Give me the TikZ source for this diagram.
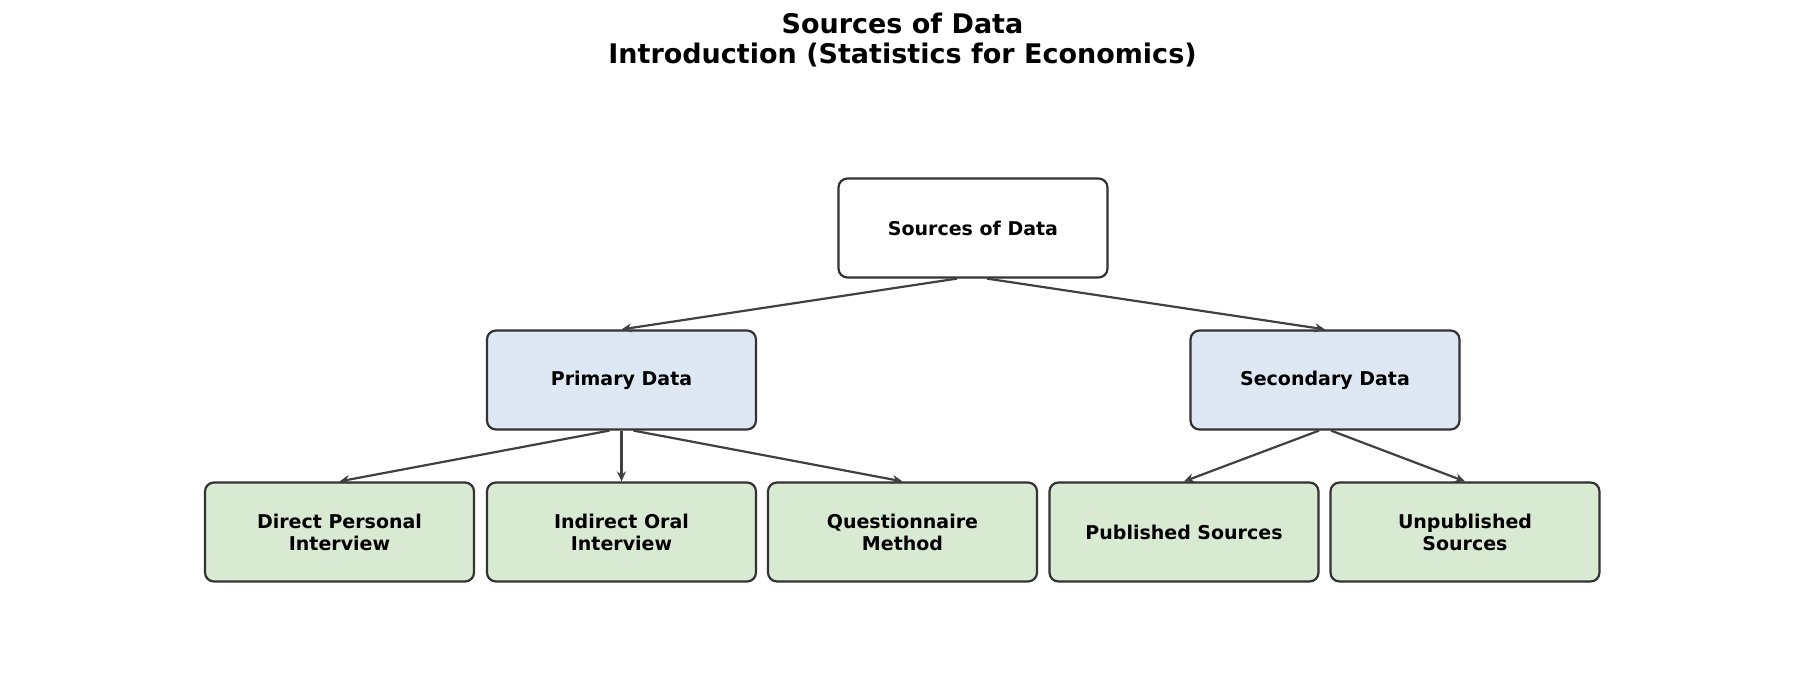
\documentclass[tikz,border=0pt]{standalone}
\usepackage{fontspec}
\setmainfont{DejaVu Sans}
\usetikzlibrary{arrows.meta}
\definecolor{bl}{HTML}{DDE8F4}
\definecolor{gr}{HTML}{D9EAD3}
\definecolor{bd}{HTML}{333333}
\definecolor{ln}{HTML}{404040}
\begin{document}
\begin{tikzpicture}[x=1pt,y=-1pt,
 box/.style={draw=bd,line width=2.2pt,rounded corners=9pt,minimum width=269pt,minimum height=99pt,align=center,font=\fontsize{19}{22}\selectfont\bfseries,inner sep=0pt},
 arr/.style={draw=ln,line width=2.2pt,-{Stealth[length=10pt,width=9pt]}}]
\useasboundingbox (0,0) rectangle (1805,699);
\node[font=\fontsize{27}{30}\selectfont\bfseries,align=center] (title) at (902.5,40) {Sources of Data\\Introduction (Statistics for Economics)};
\node[box,fill=white] (root) at (973,228) {Sources of Data};
\node[box,fill=bl] (p) at (621.5,380) {Primary Data};
\node[box,fill=bl] (s) at (1325,380) {Secondary Data};
\node[box,fill=gr] (b1) at (339.5,532) {Direct Personal\\Interview};
\node[box,fill=gr] (b2) at (621.5,532) {Indirect Oral\\Interview};
\node[box,fill=gr] (b3) at (902.5,532) {Questionnaire\\Method};
\node[box,fill=gr] (b4) at (1184,532) {Published Sources};
\node[box,fill=gr] (b5) at (1465,532) {Unpublished\\Sources};
\draw[arr] ([xshift=-16pt]root.south) -- (p.north);
\draw[arr] ([xshift=14pt]root.south) -- (s.north);
\draw[arr] ([xshift=-12pt]p.south) -- (b1.north);
\draw[arr] (p.south) -- (b2.north);
\draw[arr] ([xshift=12pt]p.south) -- (b3.north);
\draw[arr] ([xshift=-6pt]s.south) -- (b4.north);
\draw[arr] ([xshift=6pt]s.south) -- (b5.north);
\end{tikzpicture}
\end{document}
